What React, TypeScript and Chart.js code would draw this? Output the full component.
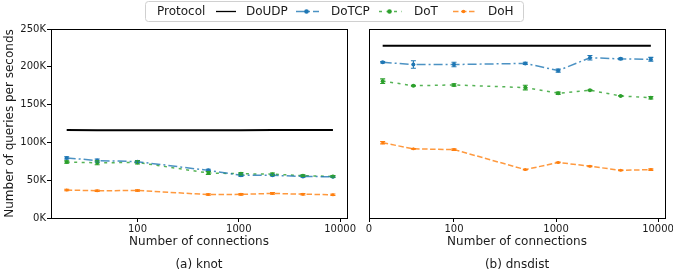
import React, { useEffect, useRef } from 'react';
import { Chart, registerables, LinearScale } from 'chart.js';

// ---------------- data ----------------
const connections = [20, 40, 100, 500, 1050, 2150, 4300, 8500];
const xTickValuesKnot = [100, 1000, 10000];
const xTickValuesDnsdist = [0, 100, 1000, 10000];
const yTickValues = [0, 50, 100, 150, 200, 250]; // thousands of queries per second

const protocols = ['DoUDP', 'DoTCP', 'DoT', 'DoH'];

// knot (K queries / s)
const knotDoUDP = [116.5, 116.2, 116.2, 116, 116, 116.4, 116.5, 116.5];
const knotDoTCP = [79.5, 76, 74.5, 63, 56.5, 56.5, 55, 54.5];
const knotDoT = [74, 73, 73.5, 59.5, 58.5, 58, 56, 55];
const knotDoH = [37, 36, 36.4, 31, 31.3, 32.5, 31.5, 30.7];
const knotErrDoTCP = [1.5, 2, 1.5, 1.5, 1.5, 1, 1, 1];
const knotErrDoT = [1.5, 2.5, 2, 2, 1.5, 1.5, 1, 1];
const knotErrDoH = [1, 1, 1, 1, 1, 1, 1, 1];

// dnsdist (K queries / s)
const dnsdistDoUDP = [228, 228, 228, 228, 228, 228, 228, 228];
const dnsdistDoTCP = [206, 203, 203, 204.5, 195, 212, 210.5, 210];
const dnsdistDoT = [181, 175, 176, 172.5, 165, 169, 161.5, 159];
const dnsdistDoH = [99.5, 91.5, 90.5, 64, 73.5, 68.5, 63, 64];
const dnsdistErrDoTCP = [1, 5, 3, 1.5, 2, 3, 1, 2.5];
const dnsdistErrDoT = [3, 0.5, 1.5, 3, 1.5, 0.5, 0.5, 1.5];
const dnsdistErrDoH = [1.5, 0.5, 1, 0.5, 0.5, 0.5, 0.5, 1];

const yTitle = 'Number of queries per seconds';
const xTitle = 'Number of connections';
const legendTitle = 'Protocol';
const captionKnot = '(a) knot';
const captionDnsdist = '(b) dnsdist';

// ---------------- styling ----------------
const FONT = '"DejaVu Sans", sans-serif';
const TEXT = '#1a1a1a';
const styles: Record<string, any> = {
  DoUDP: { color: '#000000', line: '#000000', dash: [], width: 2, legendWidth: 1.3, radius: 0 },
  DoTCP: { color: '#1f77b4', line: 'rgba(31,119,180,0.8)', dash: [9, 3, 2, 3], width: 1.5, legendWidth: 1.3, radius: 2 },
  DoT: { color: '#2ca02c', line: 'rgba(44,160,44,0.8)', dash: [3, 4.5], width: 1.5, legendWidth: 1.3, radius: 2 },
  DoH: { color: '#ff7f0e', line: 'rgba(255,127,14,0.8)', dash: [5.5, 2.5], width: 1.5, legendWidth: 1.3, radius: 1.5 },
};

// ---------------- custom symlog scale ----------------
class SymlogScale extends LinearScale {
  static id = 'symlog';
  static defaults = {};
  _tf(v: number) {
    const o: any = this.options;
    const c = o.linthresh ?? 20;
    const a = o.linwidth ?? 0.134;
    return v <= c ? (a * v) / c : a + Math.log10(v / c);
  }
  _itf(t: number) {
    const o: any = this.options;
    const c = o.linthresh ?? 20;
    const a = o.linwidth ?? 0.134;
    return t <= a ? (t * c) / a : c * Math.pow(10, t - a);
  }
  buildTicks() {
    const vals: number[] = (this.options as any).tickValues || [];
    return vals.map((v) => ({ value: v }));
  }
  configure() {
    super.configure();
    (this as any)._s0 = this._tf(this.min);
    (this as any)._sr = this._tf(this.max) - (this as any)._s0;
  }
  getPixelForValue(v: number) {
    return this.getPixelForDecimal((this._tf(v) - (this as any)._s0) / (this as any)._sr);
  }
  getValueForPixel(p: number) {
    return this._itf(this.getDecimalForPixel(p) * (this as any)._sr + (this as any)._s0);
  }
}

Chart.register(...registerables, SymlogScale as any);

// ---------------- plugins ----------------
const errorBarPlugin = {
  id: 'errorBars',
  afterDatasetsDraw(chart: any) {
    const ctx = chart.ctx;
    const xs = chart.scales.x;
    const ys = chart.scales.y;
    ctx.save();
    chart.data.datasets.forEach((ds: any) => {
      if (!ds.errors) return;
      ctx.strokeStyle = ds.pointBackgroundColor;
      ctx.lineWidth = 1.1;
      ctx.setLineDash([]);
      ds.data.forEach((pt: any, i: number) => {
        const e = ds.errors[i];
        const x = xs.getPixelForValue(pt.x);
        const y1 = ys.getPixelForValue(pt.y - e);
        const y2 = ys.getPixelForValue(pt.y + e);
        ctx.beginPath();
        ctx.moveTo(x, y1);
        ctx.lineTo(x, y2);
        ctx.moveTo(x - 2.5, y1);
        ctx.lineTo(x + 2.5, y1);
        ctx.moveTo(x - 2.5, y2);
        ctx.lineTo(x + 2.5, y2);
        ctx.stroke();
      });
    });
    ctx.restore();
  },
};

const framePlugin = {
  id: 'frame',
  afterDraw(chart: any) {
    const { left, right, top, bottom } = chart.chartArea;
    const ctx = chart.ctx;
    ctx.save();
    ctx.strokeStyle = '#000';
    ctx.lineWidth = 1;
    ctx.setLineDash([]);
    ctx.strokeRect(Math.round(left) + 0.5, Math.round(top) + 0.5, Math.round(right) - Math.round(left), Math.round(bottom) - Math.round(top));
    ctx.restore();
  },
};

const legendPlugin = {
  id: 'protocolLegend',
  afterDraw(chart: any) {
    const ctx = chart.ctx;
    ctx.save();
    ctx.beginPath();
    ctx.roundRect(145.5, 1.5, 378, 20, 3);
    ctx.fillStyle = 'rgba(255,255,255,0.85)';
    ctx.fill();
    ctx.strokeStyle = '#d0d0d0';
    ctx.lineWidth = 1;
    ctx.stroke();
    ctx.font = `12px ${FONT}`;
    ctx.fillStyle = TEXT;
    ctx.textBaseline = 'middle';
    ctx.textAlign = 'left';
    ctx.fillText(legendTitle, 157, 12);
    const handleX = [216, 296, 379, 453];
    const textX = [246, 331, 414, 488];
    const yLine = 11.5;
    chart.data.datasets.forEach((ds: any, i: number) => {
      const st = styles[ds.label];
      const len = ds.label === 'DoUDP' ? 20 : 23;
      ctx.strokeStyle = st.line;
      ctx.lineWidth = st.legendWidth;
      ctx.setLineDash(st.dash);
      ctx.beginPath();
      ctx.moveTo(handleX[i], yLine);
      ctx.lineTo(handleX[i] + len, yLine);
      ctx.stroke();
      ctx.setLineDash([]);
      if (st.radius > 0) {
        ctx.fillStyle = st.color;
        ctx.beginPath();
        ctx.arc(handleX[i] + 10.5, yLine, st.radius + 0.3, 0, Math.PI * 2);
        ctx.fill();
      }
      ctx.fillStyle = TEXT;
      ctx.fillText(ds.label, textX[i], 12);
    });
    ctx.restore();
  },
};

function makeDatasets(series: number[][], errors: (number[] | null)[]) {
  return protocols.map((p, k) => {
    const st = styles[p];
    return {
      label: p,
      data: connections.map((c, i) => ({ x: c, y: series[k][i] })),
      borderColor: st.line,
      borderWidth: st.width,
      borderDash: st.dash,
      pointRadius: st.radius,
      pointBorderWidth: 0,
      pointBackgroundColor: st.color,
      pointBorderColor: st.color,
      backgroundColor: st.color,
      tension: 0,
      fill: false,
      errors: errors[k],
    };
  });
}

function baseOptions(kind: 'knot' | 'dnsdist') {
  const left = kind === 'knot';
  return {
    animation: false,
    responsive: false,
    events: [],
    layout: { padding: { left: 0, right: left ? 326 : 8, top: 29, bottom: 0 } },
    scales: {
      x: left
        ? {
            type: 'logarithmic',
            min: 14,
            max: 11700,
            bounds: 'data',
            afterBuildTicks: (s: any) => {
              s.ticks = xTickValuesKnot.map((v) => ({ value: v }));
            },
            afterFit: (s: any) => {
              s.height = 39.6;
              s.paddingLeft = 0;
              s.paddingRight = 0;
            },
            grid: { display: true, drawOnChartArea: false, drawTicks: true, tickLength: 4, tickColor: '#000', color: '#000' },
            border: { display: false },
            ticks: { font: { family: FONT, size: 10 }, color: TEXT, padding: 1, maxRotation: 0, autoSkip: false, callback: (v: any) => String(v) },
            title: { display: true, text: xTitle, font: { family: FONT, size: 12 }, color: TEXT, padding: { top: 0, bottom: 9 } },
          }
        : {
            type: 'symlog',
            min: 0,
            max: 11700,
            linthresh: 20,
            linwidth: 0.134,
            tickValues: xTickValuesDnsdist,
            afterFit: (s: any) => {
              s.height = 39.6;
              s.paddingLeft = 0;
              s.paddingRight = 0;
            },
            grid: { display: true, drawOnChartArea: false, drawTicks: true, tickLength: 4, tickColor: '#000', color: '#000' },
            border: { display: false },
            ticks: { font: { family: FONT, size: 10 }, color: TEXT, padding: 1, maxRotation: 0, autoSkip: false, callback: (v: any) => String(v) },
            title: { display: true, text: xTitle, font: { family: FONT, size: 12 }, color: TEXT, padding: { top: 0, bottom: 9 } },
          },
      y: {
        type: 'linear',
        min: 0,
        max: 250,
        afterBuildTicks: (s: any) => {
          s.ticks = yTickValues.map((v) => ({ value: v }));
        },
        afterFit: (s: any) => {
          s.width = left ? 51 : 369;
          s.paddingTop = 0;
          s.paddingBottom = 0;
        },
        grid: { display: true, drawOnChartArea: false, drawTicks: left, tickLength: 4, tickColor: '#000', color: '#000' },
        border: { display: false },
        ticks: { display: left, font: { family: FONT, size: 10 }, color: TEXT, padding: 1, callback: (v: any) => `${v}K` },
        title: { display: left, text: yTitle, font: { family: FONT, size: 12 }, color: TEXT, padding: { top: 3, bottom: 0 } },
      },
    },
    plugins: {
      legend: { display: false },
      tooltip: { enabled: false },
      title: {
        display: true,
        position: 'bottom',
        fullSize: false,
        text: left ? captionKnot : captionDnsdist,
        font: { family: FONT, size: 12, weight: 'normal' },
        color: TEXT,
        padding: { top: 0, bottom: 4 },
      },
    },
  };
}

export default function App() {
  const leftRef = useRef<HTMLCanvasElement>(null);
  const rightRef = useRef<HTMLCanvasElement>(null);

  useEffect(() => {
    const bg = {
      id: 'bg',
      beforeDraw(chart: any) {
        const ctx = chart.ctx;
        ctx.save();
        ctx.fillStyle = '#ffffff';
        ctx.fillRect(0, 0, chart.width, chart.height);
        ctx.restore();
      },
    };
    const c1 = new Chart(leftRef.current as HTMLCanvasElement, {
      type: 'line',
      data: {
        datasets: makeDatasets([knotDoUDP, knotDoTCP, knotDoT, knotDoH], [null, knotErrDoTCP, knotErrDoT, knotErrDoH]) as any,
      },
      options: baseOptions('knot') as any,
      plugins: [bg, errorBarPlugin, framePlugin, legendPlugin],
    });
    const c2 = new Chart(rightRef.current as HTMLCanvasElement, {
      type: 'line',
      data: {
        datasets: makeDatasets([dnsdistDoUDP, dnsdistDoTCP, dnsdistDoT, dnsdistDoH], [null, dnsdistErrDoTCP, dnsdistErrDoT, dnsdistErrDoH]) as any,
      },
      options: baseOptions('dnsdist') as any,
      plugins: [errorBarPlugin, framePlugin],
    });
    return () => {
      c1.destroy();
      c2.destroy();
    };
  }, []);

  return (
    <div style={{ position: 'fixed', left: 0, top: 0, width: 673, height: 276, background: '#fff' }}>
      <canvas ref={leftRef} width={673} height={276} style={{ position: 'absolute', left: 0, top: 0 }} />
      <canvas ref={rightRef} width={673} height={276} style={{ position: 'absolute', left: 0, top: 0 }} />
    </div>
  );
}
